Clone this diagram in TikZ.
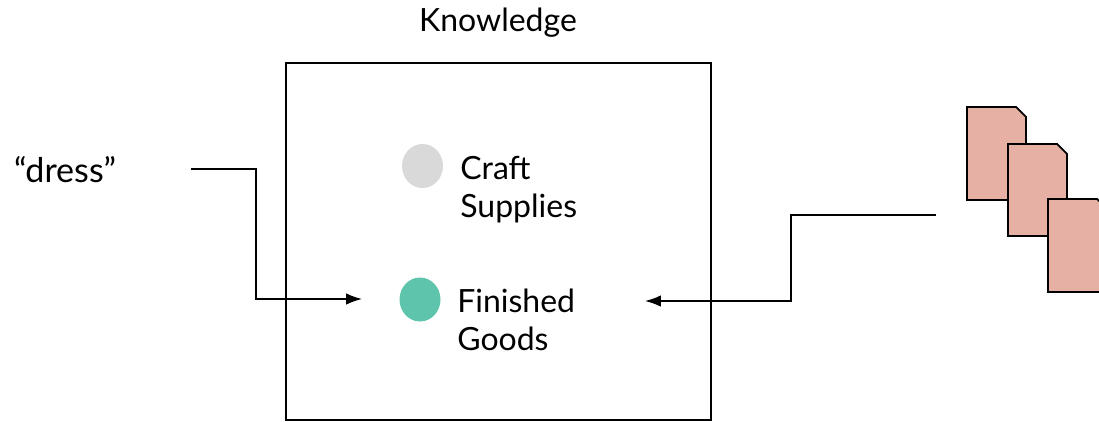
\documentclass[tikz,border=0pt]{standalone}
\usepackage{fontspec}
\setmainfont{Lato}
\usetikzlibrary{arrows.meta}
\definecolor{craftgray}{HTML}{D9D9D9}
\definecolor{goodsgreen}{HTML}{5EC4AC}
\definecolor{docpink}{HTML}{E6B1A4}
\tikzset{
    label text/.style={align=left,inner sep=0pt,font=\fontsize{18.2}{21.6}\selectfont},
    doc sheet/.style={draw=black,fill=docpink,line width=1pt,line join=miter},
    link/.style={line width=0.85pt,-{Latex[length=9pt,width=6.5pt]}}
}
\begin{document}
\begin{tikzpicture}
    \useasboundingbox (0,0) rectangle (21.98,8.42);

    \draw[line width=0.85pt] (5.72,0.02) rectangle (14.22,7.16);
    \node[label text] (knowledge) at (9.96,7.97) {Knowledge};

    \fill[craftgray] (8.45,5.1) ellipse (0.41 and 0.44);
    \fill[goodsgreen] (8.4,2.43) ellipse (0.41 and 0.44);
    \node[label text,anchor=west] (craft) at (9.2,4.62) {Craft\\Supplies};
    \node[label text,anchor=west] (goods) at (9.14,2.03) {Finished\\Goods};

    \node[label text,font=\fontsize{19.4}{21.6}\selectfont] (dress) at (1.3,5.02) {“dress”};

    %Hojas apiladas
    \draw[doc sheet] (19.34,6.28) -- (20.32,6.28) -- (20.52,6.08) -- (20.52,4.42) -- (19.34,4.42) -- cycle;
    \draw[doc sheet] (20.16,5.54) -- (21.14,5.54) -- (21.34,5.34) -- (21.34,3.7) -- (20.16,3.7) -- cycle;
    \draw[doc sheet] (20.96,4.44) -- (21.94,4.44) -- (22.14,4.24) -- (22.14,2.58) -- (20.96,2.58) -- cycle;

    %Flechas
    \coordinate (dressend) at (3.82,5.04);
    \coordinate (dresstip) at (7.24,2.44);
    \coordinate (docsend) at (18.72,4.12);
    \coordinate (docstip) at (12.9,2.4);
    \draw[link] (dressend) -- (5.12,5.04) -- (5.12,2.44) -- (dresstip);
    \draw[link] (docsend) -- (15.82,4.12) -- (15.82,2.4) -- (docstip);
\end{tikzpicture}
\end{document}
